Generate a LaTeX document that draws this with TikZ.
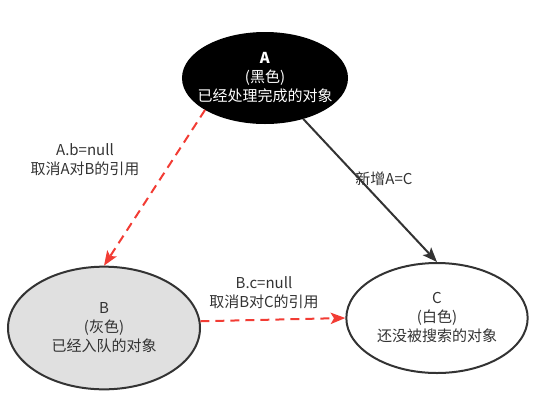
\documentclass[tikz,border=0pt]{standalone}
\usepackage{fontspec}
\setmainfont{Noto Sans CJK SC}
\usepackage{tikz}
\usetikzlibrary{shapes,arrows,arrows.meta,positioning}
\definecolor{inkgray}{HTML}{333333}
\definecolor{greyfill}{HTML}{E0E0E0}
\definecolor{refred}{HTML}{F23C34}
\tikzset{
  obj/.style={ellipse, draw=inkgray, line width=1.5pt, inner sep=0pt},
  blackobj/.style={obj, draw=black, fill=black, minimum width=123pt, minimum height=67.5pt},
  greyobj/.style={obj, fill=greyfill, minimum width=144pt, minimum height=92pt},
  whiteobj/.style={obj, fill=white, minimum width=136pt, minimum height=82.5pt},
  objtext/.style={align=center, text=inkgray, inner sep=0pt,
    font=\fontsize{11.25}{14.25}\selectfont},
  reftip/.style={-{Stealth[length=11pt, width=8.5pt, inset=2.5pt]}},
  cutref/.style={reftip, draw=refred, line width=1.5pt, dash pattern=on 6.75pt off 4.5pt},
  newref/.style={reftip, draw=inkgray, line width=1.5pt}
}
\begin{document}
\begin{tikzpicture}[x=0.75pt, y=-0.75pt, on grid]
        \useasboundingbox (0,0) rectangle (542,408);
        \node[blackobj] (A) at (265,78)                      {};
        \node[greyobj]  (B) [below left=187.5pt and 120.75pt of A] {};
        \node[whiteobj] (C) [below right=180pt and 129pt of A]     {};

        \node[objtext, text=white] (A_txt) at (A) {\textbf{A}\\(黑色)\\已经处理完成的对象};
        \node[objtext]             (B_txt) at (B) {B\\(灰色)\\已经入队的对象};
        \node[objtext]             (C_txt) at (C) {C\\(白色)\\还没被搜索的对象};

        \node[objtext] (ab_lbl) at (85,160)  {A.b=null\\取消A对B的引用};
        \node[objtext] (ac_lbl) at (384,179) {新增A=C};
        \node[objtext] (bc_lbl) at (264,293) {B.c=null\\取消B对C的引用};

        \draw[cutref] (A.208) -- (B.north);
        \draw[cutref] (B.4)   -- (C.west);
        \draw[newref] (A)     -- (C.north);
      \end{tikzpicture}
\end{document}
